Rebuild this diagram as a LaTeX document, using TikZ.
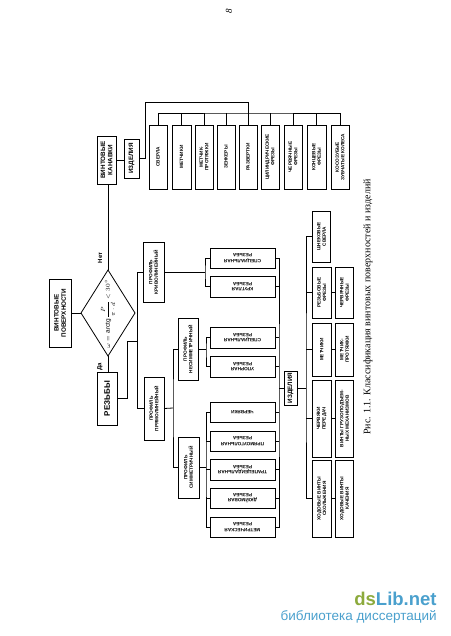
\documentclass[tikz,border=0pt]{standalone}
\usepackage{amsmath}
\usepackage{fontspec}
\setmainfont{Liberation Sans}
\newfontfamily\capfont{Liberation Serif}
\usetikzlibrary{shapes.geometric}
\definecolor{wmgreen}{RGB}{140,170,60}
\definecolor{wmblue}{RGB}{74,160,205}
\newcommand{\mybox}[8]{%
  \node[boxst, minimum width={(#4-#2)*1pt}, minimum height={(#5-#3)*1pt}] (#1) at ({(#2+#4)/2},{(#3+#5)/2}) {};
  \node[#7, rotate=#6] (#1t) at (#1.center) {#8};
}
\begin{document}
\begin{tikzpicture}[x=1pt,y=-1pt, line width=0.8pt,
  boxst/.style={draw, rectangle, inner sep=0pt, outer sep=0pt},
  smalltxt/.style={inner sep=0pt, align=center, font=\bfseries\fontsize{4.7}{5.5}\selectfont},
  bigtxt/.style={inner sep=0pt, align=center, font=\bfseries\fontsize{6.3}{7.2}\selectfont},
  hugetxt/.style={inner sep=0pt, align=center, font=\bfseries\fontsize{8}{9}\selectfont},
  lbl/.style={inner sep=0pt, font=\bfseries\fontsize{6}{7}\selectfont, rotate=90}
]
\useasboundingbox (0,0) rectangle (450,636);

% root and decision
\mybox{root}{49}{279}{71}{347}{90}{bigtxt}{ВИНТОВЫЕ\\ПОВЕРХНОСТИ}
\node[draw, diamond, inner sep=0pt, outer sep=0pt, minimum width=54pt, minimum height=86pt] (dia) at (108,313) {};
\node[rotate=90, inner sep=0pt] (form) at (108,314) {\fontsize{6.5}{7}\selectfont$\omega=\mathrm{arctg}\,\dfrac{P}{\pi\cdot d}<30^\circ$};
\node[lbl] (net) at (100,258) {Нет};
\node[lbl] (da) at (100,367) {Да};

% upper branch: helical grooves
\mybox{kan}{97}{136}{116}{184}{90}{bigtxt}{ВИНТОВЫЕ\\КАНАВКИ}
\mybox{izda}{124}{139}{139}{178}{90}{bigtxt}{ИЗДЕЛИЯ}
\mybox{sverla}{149}{125}{167}{189}{90}{smalltxt}{СВЕРЛА}
\mybox{metcha}{172}{125}{191}{189}{90}{smalltxt}{МЕТЧИКИ}
\mybox{prota}{195}{125}{213}{189}{90}{smalltxt}{МЕТЧИК-\\ПРОТЯЖКИ}
\mybox{zenk}{217}{125}{235}{189}{90}{smalltxt}{ЗЕНКЕРЫ}
\mybox{razv}{239}{125}{257}{189}{90}{smalltxt}{РАЗВЕРТКИ}
\mybox{cil}{261}{125}{279}{189}{90}{smalltxt}{ЦИЛИНДРИЧЕСКИЕ\\ФРЕЗЫ}
\mybox{chfra}{284}{125}{302}{189}{90}{smalltxt}{ЧЕРВЯЧНЫЕ\\ФРЕЗЫ}
\mybox{konc}{307}{125}{326}{189}{90}{smalltxt}{КОНЦЕВЫЕ\\ФРЕЗЫ}
\mybox{kosoz}{331}{125}{349}{189}{90}{smalltxt}{КОСОЗУБЫЕ\\ЗУБЧАТЫЕ КОЛЕСА}

% lower branch: threads
\mybox{rez}{97}{372}{117}{425}{90}{hugetxt}{РЕЗЬБЫ}
\mybox{krv}{143}{242}{164}{302}{90}{smalltxt}{ПРОФИЛЬ\\КРИВОЛИНЕЙНЫЙ}
\mybox{pryam}{144}{377}{164}{440}{90}{smalltxt}{ПРОФИЛЬ\\ПРЯМОЛИНЕЙНЫЙ}
\mybox{nesim}{178}{318}{198}{380}{90}{smalltxt}{ПРОФИЛЬ\\НЕСИММЕТРИЧНЫЙ}
\mybox{sim}{178}{437}{199}{498}{90}{smalltxt}{ПРОФИЛЬ\\СИММЕТРИЧНЫЙ}
\mybox{speca}{210}{248}{275}{268}{180}{smalltxt}{СПЕЦИАЛЬНАЯ\\РЕЗЬБА}
\mybox{krug}{210}{276}{275}{297}{180}{smalltxt}{КРУГЛАЯ\\РЕЗЬБА}
\mybox{specb}{210}{327}{275}{348}{180}{smalltxt}{СПЕЦИАЛЬНАЯ\\РЕЗЬБА}
\mybox{upor}{210}{356}{275}{377}{180}{smalltxt}{УПОРНАЯ\\РЕЗЬБА}
\mybox{cherv}{210}{402}{275}{422}{180}{smalltxt}{ЧЕРВЯКИ}
\mybox{pryamoug}{210}{431}{275}{451}{180}{smalltxt}{ПРЯМОУГОЛЬНАЯ\\РЕЗЬБА}
\mybox{trap}{210}{459}{275}{480}{180}{smalltxt}{ТРАПЕЦЕИДАЛЬНАЯ\\РЕЗЬБА}
\mybox{dyum}{210}{488}{275}{508}{180}{smalltxt}{ДЮЙМОВАЯ\\РЕЗЬБА}
\mybox{metr}{210}{517}{275}{537}{180}{smalltxt}{МЕТРИЧЕСКАЯ\\РЕЗЬБА}
\mybox{izdb}{284}{371}{297}{405}{90}{bigtxt}{ИЗДЕЛИЯ}
\mybox{shnek}{312.5}{211}{330.5}{262}{90}{smalltxt}{ШНЕКОВЫЕ\\СВЕРЛА}
\mybox{rezf}{312.5}{267}{331}{318}{90}{smalltxt}{РЕЗЬБОВЫЕ\\ФРЕЗЫ}
\mybox{metchb}{312.5}{323}{331}{376}{90}{smalltxt}{МЕТЧИКИ}
\mybox{chervp}{312.5}{380}{331}{457}{90}{smalltxt}{ЧЕРВЯКИ\\ПЕРЕДАЧ}
\mybox{hodsk}{312.5}{460}{331}{537}{90}{smalltxt}{ХОДОВЫЕ ВИНТЫ\\СКОЛЬЖЕНИЯ}
\mybox{chfrb}{335.5}{267}{353.5}{318}{90}{smalltxt}{ЧЕРВЯЧНЫЕ\\ФРЕЗЫ}
\mybox{protb}{335.5}{323}{353.5}{376}{90}{smalltxt}{МЕТЧИК-\\ПРОТЯЖКИ}
\mybox{vintg}{335.5}{380}{353.5}{457}{90}{smalltxt}{ВИНТЫ ГРУЗОПОДЪЕМ-\\НЫХ МЕХАНИЗМОВ}
\mybox{hodk}{335.5}{460}{353.5}{537}{90}{smalltxt}{ХОДОВЫЕ ВИНТЫ\\КАЧЕНИЯ}

% junction coordinates
\coordinate (t1) at (145,102);
\coordinate (tb) at (248,113);
\coordinate (rj) at (127,341);
\coordinate (pb) at (137.5,341);
\coordinate (b1) at (205,272);
\coordinate (b4) at (173,408);
\coordinate (b2) at (206,349);
\coordinate (b3) at (206,467.5);
\coordinate (rb) at (279,388);
\coordinate (pb2) at (306,388);

% connectors
\draw (root.east) -- (dia.west);
\draw (dia.north) -- (dia.north |- kan.south);
\draw (dia.south) -- (dia.south |- rez.north);
\draw (kan.east) -- (kan.east -| izda.west);
\draw (izda.east) -| (t1) -| (tb);
\draw (sverla.north) |- (tb) -| (kosoz.north);
\foreach \n in {metcha,prota,zenk,razv,cil,chfra,konc}{\draw (\n.north) -- ++(0,-12);}

\draw (rez.east) -| (rj) -- (pb);
\draw (krv.west) -| (pb) |- (pryam.west);
\draw (krv.east) -- (b1);
\draw (speca.west) -| (b1) |- (krug.west);
\draw (pryam.east) -- (b4);
\draw (nesim.west) -| (b4) |- (sim.west);
\draw (nesim.east) -- (b2);
\draw (specb.west) -| (b2) |- (upor.west);
\draw (sim.east) -- (b3);
\draw (cherv.west) -| (b3) |- (metr.west);
\foreach \n in {pryamoug,trap,dyum}{\draw (\n.west) -- ++(-4,0);}

\draw (speca.east) -| (rb) |- (metr.east);
\foreach \n in {krug,specb,upor,cherv,pryamoug,trap,dyum}{\draw (\n.east) -- ++(4,0);}
\draw (rb) -- (izdb.west);
\draw (izdb.east) -- (pb2);
\draw (shnek.west) -| (pb2) |- (hodsk.west);
\foreach \n in {rezf,metchb,chervp}{\draw (\n.west) -- ++(-6.5,0);}
\draw (rezf.east) -- (chfrb.west);
\draw (metchb.east) -- (protb.west);
\draw (chervp.east) -- (vintg.west);
\draw (hodsk.east) -- (hodk.west);

% caption, page number, watermark
\node[rotate=90, inner sep=0pt] (cap) at (368,307) {\capfont\fontsize{10}{12}\selectfont Рис. 1.1. Классификация винтовых поверхностей и изделий};
\node[rotate=90, inner sep=0pt] (pg) at (229,11) {\capfont\itshape\fontsize{9}{10}\selectfont 8};
\node[anchor=base east, inner sep=0pt] (wm1) at (437,605) {\bfseries\fontsize{18.5}{20}\selectfont\textcolor{wmgreen}{ds}\textcolor{wmblue}{Lib.net}};
\node[anchor=base east, inner sep=0pt, text=wmblue] (wm2) at (437,620) {\fontsize{13.5}{15}\selectfont библиотека диссертаций};
\end{tikzpicture}
\end{document}
